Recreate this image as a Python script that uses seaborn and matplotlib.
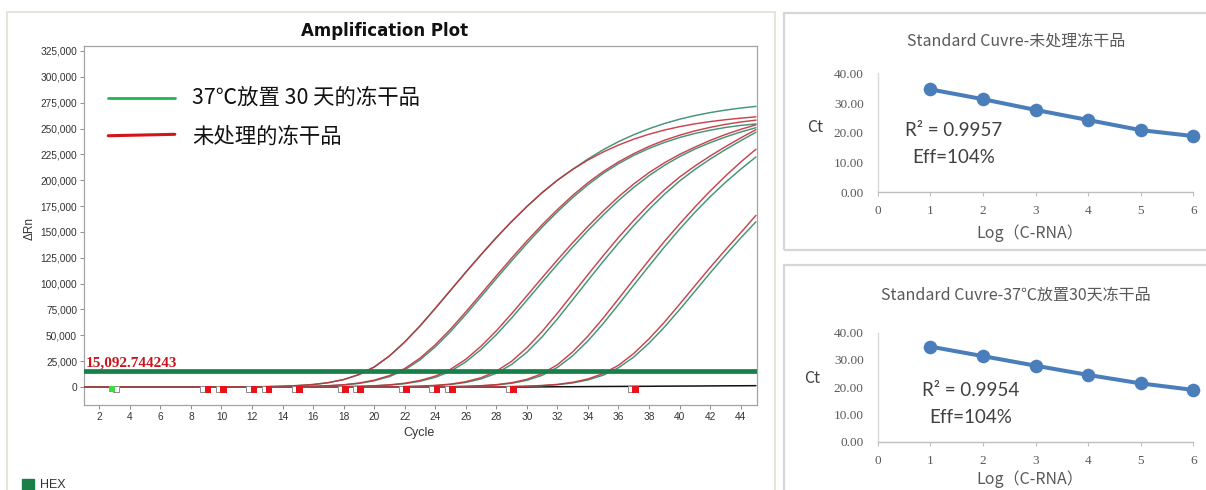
import matplotlib
matplotlib.use("Agg")
import matplotlib.pyplot as plt
from matplotlib.patches import Rectangle
from matplotlib.ticker import FuncFormatter
import pandas as pd
import seaborn as sns

sns.set_theme(style="white")
plt.rcParams["font.family"] = ["Liberation Sans", "Noto Sans CJK SC", "DejaVu Sans"]

# ---------------------------------------------------------------- data
cycles = list(range(1, 46))
threshold = 15092.744243

# ΔRn per cycle (cycles 1-45) for each well; green = stored 30 days at 37 ℃, red = untreated
green_a = [0] * 10 + [100, 200, 400, 800, 1400, 2400, 4200, 7200, 12000, 19300, 30000, 43500,
                      59000, 76000, 93500, 111000, 128000, 144500, 160000, 174500, 188000, 200000,
                      210500, 220500, 229500, 237300, 244000, 249800, 254800, 259000, 262500,
                      265400, 267800, 269800, 271400]
red_a = [0] * 10 + [100, 200, 400, 800, 1400, 2400, 4200, 7200, 12000, 19300, 30000, 43500,
                    59000, 76000, 93500, 111000, 128000, 144500, 160000, 174500, 188000, 200000,
                    210500, 219500, 227300, 234000, 239700, 244500, 248500, 251800, 254500,
                    256700, 258500, 260000, 261300]
green_b = [0] * 13 + [150, 300, 650, 1150, 2000, 3450, 6000, 10100, 16500, 26200, 38800, 53600,
                      70100, 87400, 104900, 122000, 138700, 154600, 169400, 183200, 195600, 206600,
                      216000, 224000, 230800, 236500, 241300, 245200, 248400, 251000, 253000, 254400]
red_b = [0] * 13 + [180, 360, 720, 1280, 2200, 3840, 6600, 11040, 17840, 27860, 40800, 55900,
                    72600, 90000, 107500, 124600, 141200, 156900, 171600, 185300, 197600, 208400,
                    217700, 225700, 232700, 238600, 243500, 247700, 251100, 254000, 256300, 258100]
green_c = [0] * 15 + [50, 140, 280, 580, 1050, 1850, 3200, 5550, 9300, 15200, 24300, 36300,
                      50600, 66700, 83900, 101400, 118600, 135400, 151400, 166400, 180400, 193100,
                      204400, 214300, 222800, 230100, 236300, 241800, 246600, 250800]
red_c = [0] * 15 + [70, 170, 340, 680, 1220, 2100, 3660, 6300, 10560, 17110, 26790, 39450,
                    54350, 70900, 88250, 105750, 122900, 139550, 155350, 170150, 183950, 196400,
                    207350, 216800, 224960, 231990, 238500, 244200, 249200, 253500]
green_d = [0] * 19 + [60, 150, 330, 700, 1350, 2450, 4400, 7800, 13300, 21800, 33600, 48500,
                      65900, 84400, 103100, 121500, 139200, 156100, 171800, 186300, 199200, 210400,
                      220400, 229600, 238200, 246400]
red_d = [0] * 19 + [90, 200, 410, 860, 1570, 2830, 5130, 9020, 15300, 24860, 37970, 53730,
                    71410, 90000, 108730, 126980, 144660, 161160, 176530, 190640, 203050, 213700,
                    223400, 232400, 240900, 248900]
green_e = [0] * 22 + [40, 120, 270, 580, 1100, 2000, 3600, 6450, 11300, 19000, 30200, 44600,
                      61400, 79700, 98500, 117100, 135300, 152600, 168900, 184000, 197900, 210600,
                      222500]
red_e = [0] * 22 + [50, 160, 330, 690, 1290, 2290, 4150, 7440, 12950, 21550, 33920, 49240,
                    66650, 85280, 104180, 122730, 140710, 157680, 174000, 189500, 204000, 217500,
                    230000]
green_f = [0] * 26 + [70, 160, 350, 710, 1280, 2220, 3940, 6830, 11460, 18600, 29000, 42400,
                      57800, 74800, 92500, 110300, 127500, 144100, 159800]
red_f = [0] * 26 + [100, 200, 420, 840, 1480, 2560, 4530, 7820, 13020, 21010, 32430, 46600,
                    62570, 80030, 97880, 115590, 132620, 149150, 166000]
ntc = [0] * 30 + [150, 250, 300, 420, 500, 560, 650, 700, 820, 900, 950, 1050, 1150, 1200, 1300]

# baseline start / end flags drawn by the instrument software
baseline_start = 3
baseline_ends = [9, 10, 12, 13, 15, 18, 19, 22, 24, 25, 29, 37]
flag_level = -2200

# standard curves
log_conc = [1, 2, 3, 4, 5, 6]
ct_untreated = [34.6, 31.3, 27.7, 24.3, 20.9, 18.9]
ct_stored = [34.9, 31.4, 27.9, 24.5, 21.4, 19.0]
r2_untreated, r2_stored = 0.9957, 0.9954
eff_untreated, eff_stored = 104, 104

legend_labels = ["37℃放置 30 天的冻干品", "未处理的冻干品"]

# ---------------------------------------------------------------- layout helpers
W, H = 1206, 490
fig = plt.figure(figsize=(W / 100, H / 100), dpi=100)
fig.patch.set_facecolor("white")


def fx(px):
    return px / W


def fy(py):
    return 1 - py / H


def rect(l, t, r, b):
    return [l / W, 1 - b / H, (r - l) / W, (b - t) / H]


def frame(l, t, r, b, color, lw):
    fig.patches.append(Rectangle((fx(l), fy(b)), (r - l) / W, (b - t) / H,
                                 transform=fig.transFigure, fill=False,
                                 edgecolor=color, lw=lw, zorder=0))


frame(7, 12, 775, 505, "#e3e3d8", 1.3)
frame(784, 13, 1220, 250, "#d6d6d6", 1.6)
frame(784, 265, 1220, 505, "#d6d6d6", 1.6)

# ---------------------------------------------------------------- amplification plot
ax = fig.add_axes(rect(84, 46, 756.7, 405))
ax.set_facecolor("white")

curves = {
    "A_g": green_a, "A_r": red_a, "B_g": green_b, "B_r": red_b,
    "C_g": green_c, "C_r": red_c, "D_g": green_d, "D_r": red_d,
    "E_g": green_e, "E_r": red_e, "F_g": green_f, "F_r": red_f,
}
amp = pd.concat([pd.DataFrame({"cycle": cycles, "dRn": vals, "well": well})
                 for well, vals in curves.items()], ignore_index=True)
green_col, red_col = "#2e8a66", "#c4303c"
palette = {w: (green_col if w.endswith("_g") else red_col) for w in curves}

sns.lineplot(data=pd.DataFrame({"cycle": cycles, "dRn": ntc}), x="cycle", y="dRn",
             color="#111111", lw=1.1, ax=ax, zorder=2)
sns.lineplot(data=amp, x="cycle", y="dRn", hue="well", palette=palette,
             hue_order=list(curves), estimator=None, lw=1.05, alpha=0.9,
             legend=False, ax=ax, zorder=3)

ax.axhline(threshold, color="#17804a", lw=3.4, zorder=4)
ax.text(1.12, threshold + 1800, f"{threshold:,.6f}", color="#c8161d",
        family="Liberation Serif", fontweight="bold", fontsize=11,
        va="bottom", ha="left", zorder=6)

# baseline flags
ax.scatter([baseline_start - 0.15], [flag_level], marker="s", s=18, color="#3ddc3d",
           edgecolors="none", zorder=6)
ax.scatter([baseline_start + 0.1], [flag_level], marker="s", s=14, facecolor="white",
           edgecolors="#8c8c8c", linewidths=0.7, zorder=5)
ax.scatter([c - 0.18 for c in baseline_ends], [flag_level] * len(baseline_ends), marker="s",
           s=14, facecolor="white", edgecolors="#8c8c8c", linewidths=0.7, zorder=5)
ax.scatter([c + 0.12 for c in baseline_ends], [flag_level] * len(baseline_ends), marker="s",
           s=22, color="#e8121a", edgecolors="none", zorder=6)

ax.set_xlim(1, 45.05)
ax.set_ylim(-17400, 329800)
ax.set_xticks(range(2, 45, 2))
ax.set_yticks(range(0, 325001, 25000))
ax.yaxis.set_major_formatter(FuncFormatter(lambda v, p: f"{v:,.0f}"))
ax.tick_params(axis="both", labelsize=7.3, labelcolor="#333333", length=3, width=0.7,
               color="#8a8a8a", pad=2, direction="out", bottom=True, left=True)
ax.set_xlabel("")
ax.set_ylabel("")
for s in ax.spines.values():
    s.set_color("#a3a3a3")
    s.set_linewidth(0.9)
    s.set_visible(True)

# legend drawn inside the plot
ax.plot([0.036, 0.135], [0.855, 0.855], transform=ax.transAxes, color="#1fb556", lw=2.0)
ax.plot([0.036, 0.135], [0.750, 0.754], transform=ax.transAxes, color="#d3141b", lw=2.2)
for yy, lab in zip([0.855, 0.746], legend_labels):
    ax.text(0.1605, yy, lab, transform=ax.transAxes, fontsize=15.4, va="center", ha="left",
            color="#111111", family=["Noto Sans CJK SC", "DejaVu Sans"])

fig.text(fx(385), fy(31), "Amplification Plot", ha="center", va="center",
         fontsize=12, fontweight="bold", family="DejaVu Sans", color="#111111")
fig.text(fx(30), fy(228), "ΔRn", rotation=90, ha="center", va="center",
         fontsize=8.5, color="#333333")
fig.text(fx(419), fy(433), "Cycle", ha="center", va="center", fontsize=9, color="#333333")

fig.patches.append(Rectangle((fx(22), fy(491)), 12 / W, 12 / H, transform=fig.transFigure,
                             color="#1a8048", zorder=3))
fig.text(fx(40), fy(485), "HEX", ha="left", va="center", fontsize=9, color="#333333")

# ---------------------------------------------------------------- standard curves
cjk = ["Noto Sans CJK SC", "DejaVu Sans"]


def standard_panel(t40, b0, title, title_y, ct, r2, eff, ct_pos, stat_x, stat_y, xlab_y):
    a = fig.add_axes(rect(877.7, t40, 1193.3, b0))
    sns.lineplot(x=log_conc, y=ct, color="#4a7ebb", lw=2.9, marker="o", markersize=9.8,
                 markeredgewidth=0, clip_on=False, ax=a, zorder=3)
    a.set_xlim(0, 6)
    a.set_ylim(0, 40)
    a.set_xticks(range(0, 7))
    a.set_yticks(range(0, 41, 10))
    a.yaxis.set_major_formatter(FuncFormatter(lambda v, p: f"{v:.2f}"))
    a.tick_params(axis="y", length=0, pad=10, labelsize=9.5, labelcolor="#595959")
    a.tick_params(axis="x", length=3, width=0.8, color="#bfbfbf", pad=6.5, direction="out",
                  bottom=True, labelsize=9.5, labelcolor="#595959")
    for lab in a.get_xticklabels() + a.get_yticklabels():
        lab.set_family("Liberation Serif")
    for side in ("top", "right"):
        a.spines[side].set_visible(False)
    a.spines["left"].set_color("#d9d9d9")
    a.spines["bottom"].set_color("#bfbfbf")
    a.spines["left"].set_linewidth(1.0)
    a.spines["bottom"].set_linewidth(1.0)
    a.set_xlabel("")
    a.set_ylabel("")
    a.set_facecolor("white")

    fig.text(fx(1016), fy(title_y), title, ha="center", va="center", fontsize=11.5,
             color="#595959", family=cjk)
    fig.text(fx(ct_pos[0]), fy(ct_pos[1]), "Ct", ha="center", va="center", fontsize=11.5,
             color="#404040", family=cjk)
    fig.text(fx(stat_x), fy(stat_y), f"R² = {r2:.4f}", ha="center", va="center",
             fontsize=13.5, color="#404040", family=["Lato", "DejaVu Sans"])
    fig.text(fx(stat_x), fy(stat_y + 27), f"Eff={eff}%", ha="center", va="center",
             fontsize=13.5, color="#404040", family=["Lato", "DejaVu Sans"])
    fig.text(fx(1030), fy(xlab_y), "Log（C-RNA）", ha="center", va="center", fontsize=11.5,
             color="#595959", family=cjk)
    return a


standard_panel(73.3, 192.3, "Standard Cuvre-未处理冻干品", 41, ct_untreated, r2_untreated,
               eff_untreated, (815, 128), 953.5, 130, 233)
standard_panel(332.7, 441.7, "Standard Cuvre-37℃放置30天冻干品", 295, ct_stored, r2_stored,
               eff_stored, (812, 378), 971, 390, 479)

fig.savefig("out.png", dpi=100, facecolor="white")
